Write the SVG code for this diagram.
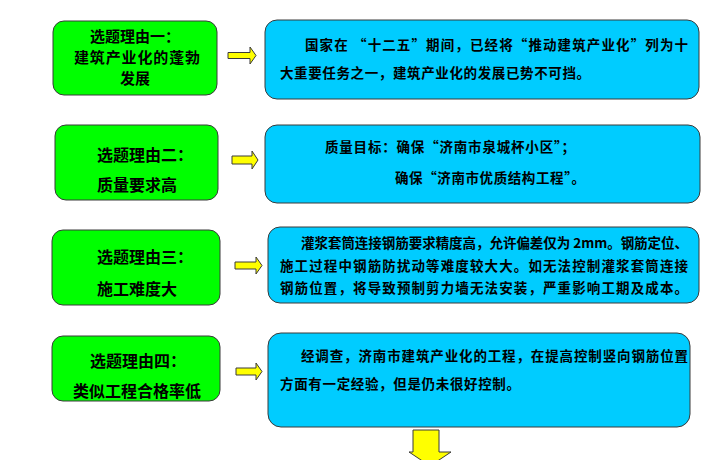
<svg xmlns="http://www.w3.org/2000/svg" width="712" height="460" viewBox="0 0 712 460">
<style>
.g{fill:#00ff00;stroke:#3a3a3a;stroke-width:1}
.b{fill:#00ccff;stroke:#3a3a3a;stroke-width:1}
.a{fill:#ffff00;stroke:#3a3a3a;stroke-width:1}
text{font-family:"Noto Sans CJK SC","Noto Sans",sans-serif;font-weight:bold;fill:#000}
.t{font-size:16px;text-anchor:middle}
.s{font-size:15px;text-anchor:middle}
.l{font-size:16px}
.d{font-size:13.5px}
</style>
<rect width="712" height="460" fill="#ffffff"/>
<g id="reason1">
<rect class="g" x="53" y="21" width="164" height="74" rx="11"/>
<text class="s" x="135" y="42">选题理由一：</text>
<text class="s" x="137" y="63" textLength="126">建筑产业化的蓬勃</text>
<text class="s" x="135" y="84">发展</text>
</g>
<g id="detail1">
<rect class="b" x="265" y="20" width="434" height="79" rx="12"/>
<text class="d" x="305" y="50" textLength="383">国家在 “十二五”期间，已经将“推动建筑产业化”列为十</text>
<text class="d" x="280" y="78" textLength="310">大重要任务之一，建筑产业化的发展已势不可挡。</text>
</g>
<g id="reason2">
<rect class="g" x="55" y="125" width="163" height="75" rx="11"/>
<text class="l" x="97" y="161">选题理由二：</text>
<text class="l" x="97" y="191">质量要求高</text>
</g>
<g id="detail2">
<rect class="b" x="265" y="125" width="435" height="78" rx="12"/>
<text class="d" x="325" y="152" textLength="250">质量目标：确保“济南市泉城杯小区”；</text>
<text class="d" x="395" y="183" textLength="190">确保“济南市优质结构工程”。</text>
</g>
<g id="reason3">
<rect class="g" x="52" y="230" width="168" height="75" rx="11"/>
<text class="l" x="97" y="263">选题理由三：</text>
<text class="l" x="97" y="295">施工难度大</text>
</g>
<g id="detail3">
<rect class="b" x="268" y="227" width="431" height="76" rx="12"/>
<text class="d" x="301" y="248" textLength="387">灌浆套筒连接钢筋要求精度高，允许偏差仅为 2mm。钢筋定位、</text>
<text class="d" x="280" y="271" textLength="408">施工过程中钢筋防扰动等难度较大大。如无法控制灌浆套筒连接</text>
<text class="d" x="280" y="293" textLength="408">钢筋位置，将导致预制剪力墙无法安装，严重影响工期及成本。</text>
</g>
<g id="reason4">
<rect class="g" x="52" y="336" width="168" height="65" rx="11"/>
<text class="t" x="138" y="367">选题理由四：</text>
<text class="t" x="137" y="397">类似工程合格率低</text>
</g>
<g id="detail4">
<rect class="b" x="268" y="333" width="422" height="94" rx="13"/>
<text class="d" x="301" y="361" textLength="387">经调查，济南市建筑产业化的工程，在提高控制竖向钢筋位置</text>
<text class="d" x="280" y="389" textLength="240">方面有一定经验，但是仍未很好控制。</text>
</g>
<g id="connectors">
<path class="a" d="M228,52.5 H250 V47 L256,55.5 L250,64 V58.5 H228 Z"/>
<path class="a" d="M232,156 H252 V151 L258,160 L252,169 V164 H232 Z"/>
<path class="a" d="M235,262 H256 V257 L262,265.5 L256,274 V269 H235 Z"/>
<path class="a" d="M236,368 H256 V363 L262,371.5 L256,380 V375 H236 Z"/>
<path class="a" d="M413,430 H439 V452 H451 L430,466 L409,452 H413 Z"/>
</g>
</svg>
